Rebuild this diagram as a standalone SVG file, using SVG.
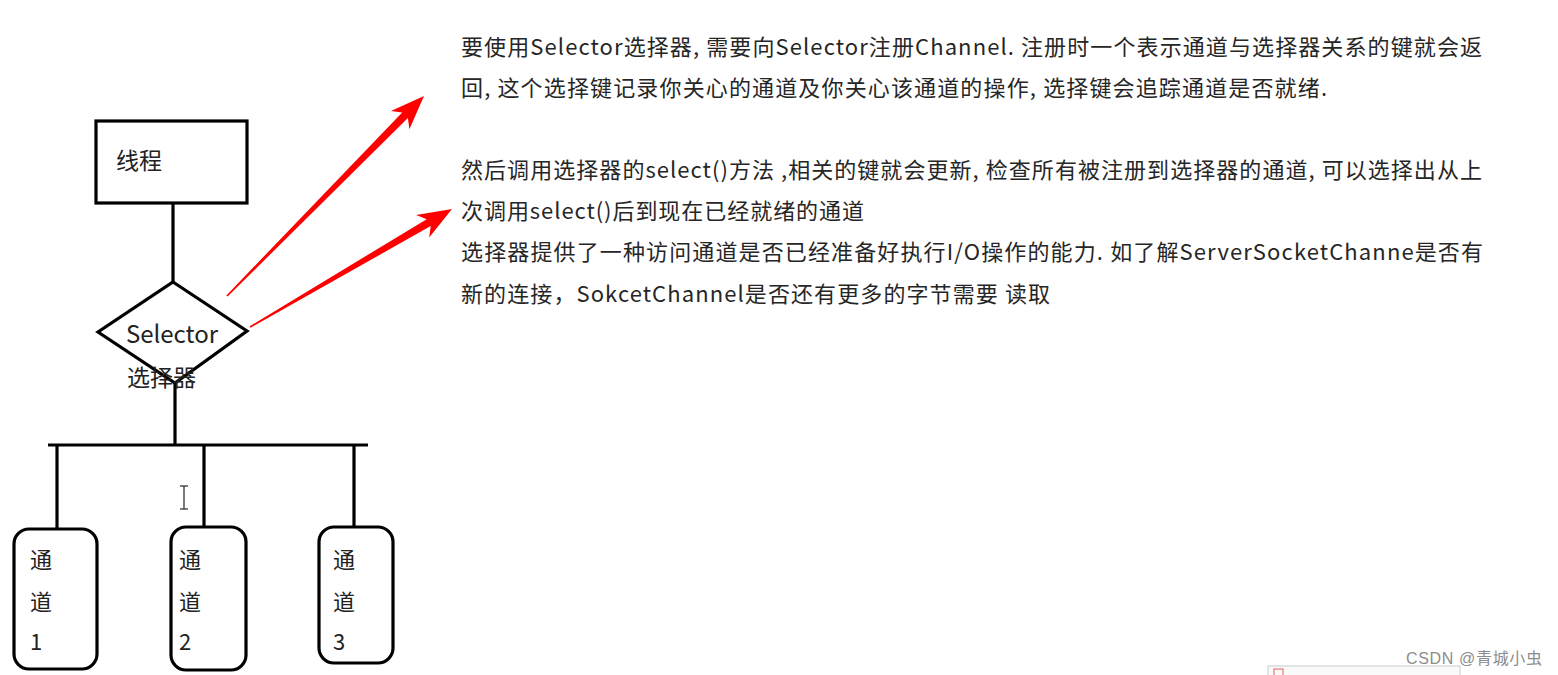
<svg xmlns="http://www.w3.org/2000/svg" width="1558" height="675" viewBox="0 0 1558 675">
<style>
.shape{fill:#fff;stroke:#000;stroke-width:3.2}
.wire{stroke:#000;stroke-width:3.2;fill:none}
.lbl{font-family:"Noto Sans CJK SC","Noto Sans",sans-serif;fill:#222}
.para{font-family:"Noto Sans CJK SC","Noto Sans",sans-serif;font-size:22px;fill:#262626}
.red{fill:#ff0000}
</style>
<rect width="1558" height="675" fill="#fff"/>
<g id="connectors">
<line class="wire" x1="173" y1="203" x2="173" y2="282"/>
<line class="wire" x1="175" y1="382" x2="175" y2="445"/>
<line class="wire" x1="48" y1="445" x2="368" y2="445"/>
<line class="wire" x1="57" y1="445" x2="57" y2="530"/>
<line class="wire" x1="204" y1="445" x2="204" y2="528"/>
<line class="wire" x1="354" y1="445" x2="354" y2="528"/>
<polygon class="red" points="227.6,296.6 407.9,118.1 409.4,129.3 424,96 390.9,111.1 402.2,112.4 226.4,295.4"/>
<polygon class="red" points="250.4,327.7 430.7,226.1 429.2,237.4 452,209 416.1,214.9 426.7,219.2 249.6,326.3"/>
</g>
<g id="thread">
<rect class="shape" x="96" y="121" width="151" height="82"/>
<text class="lbl" x="116" y="169" font-size="23">线程</text>
</g>
<g id="selector">
<polygon class="shape" points="173,282 247,331 175,383 98,332"/>
<text class="lbl" x="172" y="343" font-size="24" text-anchor="middle">Selector</text>
<text class="lbl" x="127" y="386" font-size="23">选择器</text>
</g>
<g id="channel1">
<rect class="shape" x="14" y="529" width="83" height="140" rx="15"/>
<text class="lbl" x="30" y="568" font-size="22">通</text>
<text class="lbl" x="30" y="610" font-size="22">道</text>
<text class="lbl" x="30" y="650" font-size="22">1</text>
</g>
<g id="channel2">
<rect class="shape" x="171" y="527" width="75" height="143" rx="15"/>
<text class="lbl" x="179" y="568" font-size="22">通</text>
<text class="lbl" x="179" y="610" font-size="22">道</text>
<text class="lbl" x="179" y="650" font-size="22">2</text>
</g>
<g id="channel3">
<rect class="shape" x="319" y="527" width="74" height="136" rx="15"/>
<text class="lbl" x="333" y="568" font-size="22">通</text>
<text class="lbl" x="333" y="610" font-size="22">道</text>
<text class="lbl" x="333" y="650" font-size="22">3</text>
</g>
<g id="cursor" stroke="#333" stroke-width="1.3" fill="none">
<line x1="184" y1="486" x2="184" y2="509"/>
<line x1="180" y1="486" x2="188" y2="486"/>
<line x1="180" y1="509" x2="188" y2="509"/>
</g>
<g id="description">
<text class="para" x="461" y="55" textLength="1021">要使用Selector选择器, 需要向Selector注册Channel.  注册时一个表示通道与选择器关系的键就会返</text>
<text class="para" x="461" y="96" textLength="866">回, 这个选择键记录你关心的通道及你关心该通道的操作, 选择键会追踪通道是否就绪.</text>
<text class="para" x="461" y="178" textLength="1021">然后调用选择器的select()方法 ,相关的键就会更新, 检查所有被注册到选择器的通道, 可以选择出从上</text>
<text class="para" x="461" y="219" textLength="403">次调用select()后到现在已经就绪的通道</text>
<text class="para" x="461" y="260" textLength="1022">选择器提供了一种访问通道是否已经准备好执行I/O操作的能力.  如了解ServerSocketChanne是否有</text>
<text class="para" x="461" y="302" textLength="589">新的连接，SokcetChannel是否还有更多的字节需要 读取</text>
</g>
<g id="watermark">
<rect x="1268" y="666" width="192" height="14" fill="#fafafa" stroke="#ccc" stroke-width="1"/>
<rect x="1274" y="669" width="9" height="8" fill="none" stroke="#e06060" stroke-width="1"/>
<text x="1406" y="664" font-family="'Liberation Sans','Noto Sans CJK SC',sans-serif" font-size="16" fill="#8c8c8c" textLength="136">CSDN @青城小虫</text>
</g>
</svg>
